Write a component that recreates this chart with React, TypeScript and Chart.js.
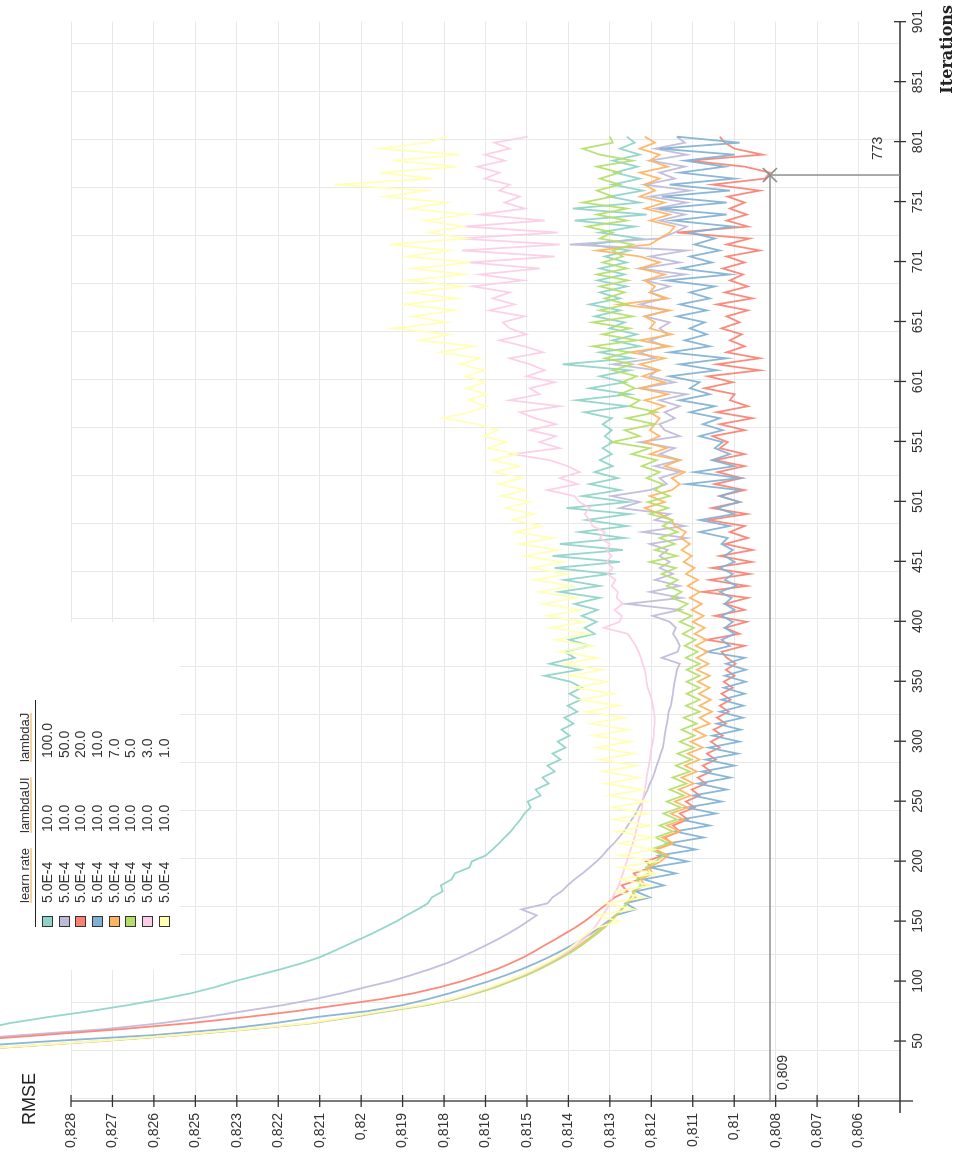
import { useEffect, useRef } from "react";
import { Chart, registerables } from "chart.js";

Chart.register(...registerables);

// ---------------- data ----------------
const ITERATIONS = [
  40, 45, 50, 55, 60, 65, 70, 75, 80, 85,
  90, 95, 100, 105, 110, 115, 120, 125, 130, 135,
  140, 145, 150, 155, 160, 165, 170, 175, 180, 185,
  190, 195, 200, 205, 210, 215, 220, 225, 230, 235,
  240, 245, 250, 255, 260, 265, 270, 275, 280, 285,
  290, 295, 300, 305, 310, 315, 320, 325, 330, 335,
  340, 345, 350, 355, 360, 365, 370, 375, 380, 385,
  390, 395, 400, 405, 410, 415, 420, 425, 430, 435,
  440, 445, 450, 455, 460, 465, 470, 475, 480, 485,
  490, 495, 500, 505, 510, 515, 520, 525, 530, 535,
  540, 545, 550, 555, 560, 565, 570, 575, 580, 585,
  590, 595, 600, 605, 610, 615, 620, 625, 630, 635,
  640, 645, 650, 655, 660, 665, 670, 675, 680, 685,
  690, 695, 700, 705, 710, 715, 720, 725, 730, 735,
  740, 745, 750, 755, 760, 765, 770, 775, 780, 785,
  790, 795, 800, 805,
];

const RMSE_J100 = [
  0.83414, 0.83303, 0.83206, 0.83123, 0.83048, 0.8297, 0.82865, 0.82748, 0.82643, 0.82549,
  0.82466, 0.82401, 0.82346, 0.82282, 0.82218, 0.8216, 0.8211, 0.82072, 0.82036, 0.81999,
  0.81963, 0.8193, 0.81897, 0.81869, 0.81838, 0.8181, 0.81799, 0.81769, 0.81774, 0.81744,
  0.81735, 0.81694, 0.81688, 0.81649, 0.8163, 0.81613, 0.81597, 0.8158, 0.81567, 0.81553,
  0.81542, 0.81525, 0.81533, 0.81497, 0.81511, 0.81475, 0.81492, 0.81458, 0.81478, 0.81442,
  0.81464, 0.81428, 0.8145, 0.81417, 0.81439, 0.81406, 0.81431, 0.81395, 0.81422, 0.81386,
  0.81417, 0.81383, 0.81414, 0.81486, 0.81389, 0.81472, 0.81403, 0.81431, 0.81361, 0.81417,
  0.81347, 0.81375, 0.81342, 0.81383, 0.81339, 0.81403, 0.81333, 0.81444, 0.81333, 0.81431,
  0.81305, 0.81458, 0.81277, 0.81464, 0.81269, 0.81444, 0.81264, 0.81389, 0.81258, 0.8137,
  0.8125, 0.81425, 0.81255, 0.81381, 0.81277, 0.81361, 0.81283, 0.81347, 0.81297, 0.81333,
  0.813, 0.81325, 0.81297, 0.81319, 0.813, 0.81325, 0.813, 0.81375, 0.81255, 0.81397,
  0.8125, 0.81361, 0.81264, 0.81333, 0.8125, 0.81436, 0.81244, 0.81333, 0.81222, 0.81297,
  0.8123, 0.81305, 0.81264, 0.81347, 0.81277, 0.81361, 0.81277, 0.81333, 0.81258, 0.81339,
  0.81264, 0.81333, 0.81258, 0.81319, 0.8125, 0.81361, 0.81222, 0.81333, 0.81236, 0.81403,
  0.81203, 0.81408, 0.81222, 0.81305, 0.81214, 0.81297, 0.81222, 0.81291, 0.81228, 0.81297,
  0.81222, 0.81277, 0.81236, 0.81258,
];

const RMSE_J50 = [
  0.83692, 0.83414, 0.83165, 0.82937, 0.82707, 0.82549, 0.82429, 0.82321, 0.82213, 0.82124,
  0.82049, 0.81983, 0.81913, 0.81857, 0.81805, 0.81758, 0.81719, 0.81683, 0.81649, 0.81616,
  0.81586, 0.81558, 0.81533, 0.81508, 0.8155, 0.81478, 0.81464, 0.81439, 0.81422, 0.81403,
  0.81381, 0.81361, 0.81342, 0.81325, 0.81311, 0.81294, 0.8128, 0.81266, 0.81255, 0.81244,
  0.81233, 0.81225, 0.81216, 0.81208, 0.812, 0.81194, 0.81186, 0.8118, 0.81175, 0.81169,
  0.81164, 0.81158, 0.81155, 0.81153, 0.8115, 0.81147, 0.81144, 0.81142, 0.81136, 0.81133,
  0.8113, 0.81128, 0.81125, 0.81122, 0.81119, 0.81111, 0.81161, 0.81117, 0.81111, 0.81119,
  0.8113, 0.81122, 0.81139, 0.81186, 0.81111, 0.81258, 0.81106, 0.81194, 0.81111, 0.8118,
  0.8113, 0.81167, 0.81139, 0.81167, 0.81144, 0.81194, 0.81092, 0.81214, 0.81097, 0.8118,
  0.81139, 0.81278, 0.81222, 0.813, 0.81194, 0.81147, 0.81167, 0.81111, 0.8118, 0.81111,
  0.81167, 0.81125, 0.81222, 0.81111, 0.81153, 0.81167, 0.81125, 0.81153, 0.81111, 0.81167,
  0.81092, 0.81222, 0.81125, 0.81194, 0.81175, 0.81297, 0.8118, 0.81222, 0.81153, 0.81194,
  0.81144, 0.81167, 0.81139, 0.81208, 0.81144, 0.81222, 0.81153, 0.81194, 0.81139, 0.81208,
  0.81097, 0.81222, 0.81111, 0.81194, 0.81092, 0.81416, 0.81167, 0.81125, 0.81092, 0.81167,
  0.81097, 0.8118, 0.81092, 0.81194, 0.81083, 0.81208, 0.81125, 0.81167, 0.81097, 0.81194,
  0.81092, 0.8118, 0.81097, 0.81119,
];

const RMSE_J20 = [
  0.83775, 0.83442, 0.83109, 0.82881, 0.8266, 0.82471, 0.82315, 0.82177, 0.82058, 0.81941,
  0.81849, 0.81777, 0.81716, 0.81666, 0.81619, 0.8158, 0.81544, 0.81514, 0.81486, 0.81456,
  0.81428, 0.814, 0.81375, 0.81353, 0.81333, 0.81311, 0.81292, 0.81256, 0.81272, 0.81222,
  0.81239, 0.81189, 0.81205, 0.81158, 0.81178, 0.81133, 0.81153, 0.81111, 0.8113, 0.81089,
  0.81111, 0.8107, 0.81094, 0.81056, 0.81078, 0.81039, 0.81061, 0.81025, 0.81047, 0.81011,
  0.81036, 0.81, 0.81025, 0.80992, 0.81017, 0.80983, 0.81008, 0.80975, 0.81, 0.8097,
  0.80995, 0.80964, 0.80989, 0.80959, 0.80983, 0.80956, 0.80981, 0.80995, 0.80931, 0.81036,
  0.80945, 0.80986, 0.80925, 0.81014, 0.80931, 0.80986, 0.80922, 0.81047, 0.80925, 0.81028,
  0.80917, 0.81022, 0.80911, 0.81, 0.80909, 0.80986, 0.80922, 0.80972, 0.80931, 0.81033,
  0.80925, 0.81022, 0.80945, 0.81, 0.80931, 0.81014, 0.80939, 0.81006, 0.80931, 0.81014,
  0.80931, 0.81, 0.80978, 0.8102, 0.80931, 0.81, 0.80909, 0.81008, 0.80922, 0.80972,
  0.80959, 0.81042, 0.80964, 0.81033, 0.80889, 0.81008, 0.80889, 0.80981, 0.80931, 0.80972,
  0.80939, 0.80995, 0.80945, 0.80981, 0.80922, 0.81008, 0.80909, 0.80986, 0.80922, 0.80972,
  0.80936, 0.80992, 0.80931, 0.80981, 0.80889, 0.80981, 0.80917, 0.81119, 0.80922, 0.80981,
  0.80925, 0.80972, 0.80931, 0.80978, 0.80889, 0.8102, 0.80875, 0.80861, 0.80931, 0.81083,
  0.80881, 0.80959, 0.80986, 0.81,
];

const RMSE_J10 = [
  0.83359, 0.83109, 0.82854, 0.82571, 0.82374, 0.82235, 0.82122, 0.81977, 0.8188, 0.8181,
  0.81749, 0.81694, 0.81641, 0.81594, 0.8155, 0.81511, 0.81475, 0.81442, 0.81411, 0.81383,
  0.81356, 0.81333, 0.81311, 0.81289, 0.81233, 0.81261, 0.81194, 0.81233, 0.81155, 0.81211,
  0.81122, 0.81192, 0.81089, 0.81167, 0.81067, 0.81144, 0.81045, 0.81125, 0.81028, 0.81108,
  0.81011, 0.81092, 0.80995, 0.81075, 0.80981, 0.81061, 0.8097, 0.8105, 0.80959, 0.81039,
  0.8095, 0.81031, 0.80945, 0.8102, 0.80942, 0.81008, 0.80936, 0.81, 0.80934, 0.80995,
  0.80931, 0.80989, 0.80928, 0.80986, 0.80928, 0.80983, 0.80931, 0.81036, 0.80972, 0.80995,
  0.80959, 0.80986, 0.80964, 0.80995, 0.80959, 0.80986, 0.80967, 0.81, 0.80953, 0.80986,
  0.80964, 0.81, 0.80959, 0.80986, 0.80964, 0.80995, 0.80978, 0.81056, 0.80972, 0.81056,
  0.80959, 0.81008, 0.80945, 0.81, 0.80945, 0.81092, 0.80945, 0.8107, 0.80959, 0.81022,
  0.80972, 0.81014, 0.80992, 0.81056, 0.80992, 0.81047, 0.81, 0.81083, 0.81014, 0.81111,
  0.81028, 0.81083, 0.81056, 0.81139, 0.81008, 0.81111, 0.80981, 0.81139, 0.81028, 0.81097,
  0.81036, 0.81083, 0.81042, 0.81119, 0.81036, 0.81111, 0.81028, 0.81083, 0.81014, 0.81147,
  0.80972, 0.81111, 0.81022, 0.81083, 0.81, 0.8107, 0.81014, 0.81083, 0.80964, 0.8113,
  0.80981, 0.81167, 0.80981, 0.81161, 0.80972, 0.81139, 0.80959, 0.81111, 0.80986, 0.81097,
  0.80959, 0.81167, 0.80945, 0.81119,
];

const RMSE_J7 = [
  0.83248, 0.8297, 0.82721, 0.82499, 0.82304, 0.82133, 0.82027, 0.8193, 0.81819, 0.81735,
  0.8168, 0.81627, 0.81583, 0.81542, 0.81506, 0.81472, 0.81442, 0.81414, 0.81389, 0.81367,
  0.81345, 0.81325, 0.81305, 0.81289, 0.81272, 0.81258, 0.81233, 0.81242, 0.81208, 0.81219,
  0.81186, 0.81197, 0.81164, 0.81144, 0.81178, 0.81128, 0.81161, 0.81111, 0.81147, 0.811,
  0.81136, 0.81089, 0.81125, 0.81081, 0.81114, 0.81072, 0.81106, 0.81064, 0.81097, 0.81056,
  0.81089, 0.81047, 0.81081, 0.81039, 0.81072, 0.81028, 0.81056, 0.81022, 0.81056, 0.81025,
  0.81058, 0.81028, 0.81061, 0.81028, 0.81064, 0.81031, 0.81064, 0.81033, 0.81067, 0.81036,
  0.8107, 0.81042, 0.81075, 0.81045, 0.81078, 0.8105, 0.81083, 0.81056, 0.81089, 0.81061,
  0.81094, 0.8107, 0.811, 0.81078, 0.81106, 0.81083, 0.81108, 0.81094, 0.81125, 0.81133,
  0.81167, 0.81208, 0.81153, 0.81194, 0.81133, 0.81111, 0.81133, 0.81097, 0.81153, 0.81111,
  0.81194, 0.81147, 0.81208, 0.81167, 0.81194, 0.8118, 0.81167, 0.81194, 0.81153, 0.81208,
  0.81144, 0.81222, 0.81153, 0.81214, 0.81167, 0.81222, 0.81153, 0.8125, 0.81139, 0.81222,
  0.81133, 0.81194, 0.8118, 0.81208, 0.81139, 0.81278, 0.81144, 0.81194, 0.8118, 0.81208,
  0.81153, 0.81222, 0.81167, 0.81222, 0.81341, 0.81194, 0.81167, 0.81139, 0.81125, 0.81194,
  0.81139, 0.81208, 0.81153, 0.81222, 0.8118, 0.81208, 0.81167, 0.81222, 0.81144, 0.81194,
  0.81167, 0.81222, 0.8118, 0.81208,
];

const RMSE_J5 = [
  0.83234, 0.82965, 0.82715, 0.82493, 0.82299, 0.8213, 0.82021, 0.81921, 0.81813, 0.81733,
  0.81674, 0.81622, 0.81578, 0.81536, 0.815, 0.81467, 0.81436, 0.81408, 0.81383, 0.81361,
  0.81339, 0.81319, 0.81303, 0.81286, 0.81272, 0.81258, 0.81247, 0.81236, 0.81219, 0.8123,
  0.81197, 0.81205, 0.81178, 0.81156, 0.81192, 0.81142, 0.81178, 0.81131, 0.81167, 0.81119,
  0.81156, 0.81108, 0.81147, 0.811, 0.81139, 0.81092, 0.81131, 0.81083, 0.81122, 0.81078,
  0.81117, 0.81072, 0.81111, 0.8107, 0.81106, 0.81064, 0.811, 0.81056, 0.81094, 0.81056,
  0.81092, 0.81056, 0.81092, 0.81056, 0.81092, 0.81056, 0.81094, 0.81061, 0.81097, 0.81067,
  0.81103, 0.81072, 0.81111, 0.81078, 0.81119, 0.81089, 0.81133, 0.81106, 0.81147, 0.81117,
  0.81161, 0.81122, 0.81194, 0.81119, 0.8118, 0.81125, 0.81167, 0.81117, 0.81158, 0.81131,
  0.81194, 0.81144, 0.812, 0.81139, 0.8118, 0.81158, 0.81203, 0.81167, 0.81216, 0.81175,
  0.81244, 0.81194, 0.813, 0.81222, 0.81264, 0.8118, 0.81258, 0.81175, 0.8125, 0.81222,
  0.81278, 0.81236, 0.81272, 0.8123, 0.81297, 0.81242, 0.81319, 0.8125, 0.81353, 0.8123,
  0.81325, 0.8125, 0.81353, 0.81242, 0.81333, 0.81258, 0.81319, 0.81264, 0.81333, 0.81255,
  0.81341, 0.81258, 0.81325, 0.81269, 0.81297, 0.81242, 0.81333, 0.81297, 0.81369, 0.81258,
  0.81341, 0.81258, 0.8138, 0.81297, 0.81341, 0.81278, 0.81333, 0.81278, 0.81341, 0.81242,
  0.81333, 0.8138, 0.81297, 0.81305,
];

const RMSE_J3 = [
  0.83242, 0.82976, 0.82726, 0.82504, 0.8231, 0.82138, 0.82032, 0.81935, 0.81824, 0.81741,
  0.81685, 0.81633, 0.81589, 0.81547, 0.81511, 0.81478, 0.81447, 0.81419, 0.81397, 0.81378,
  0.81361, 0.81347, 0.81336, 0.81325, 0.81314, 0.81305, 0.81297, 0.81289, 0.8128, 0.81275,
  0.81269, 0.81264, 0.81258, 0.81253, 0.81247, 0.81242, 0.81236, 0.81233, 0.81228, 0.81225,
  0.81219, 0.81216, 0.81214, 0.81211, 0.81208, 0.81205, 0.81203, 0.812, 0.81197, 0.81194,
  0.81192, 0.81189, 0.81186, 0.81183, 0.81183, 0.81181, 0.81181, 0.81183, 0.81186, 0.81189,
  0.81194, 0.812, 0.81203, 0.81205, 0.81208, 0.81214, 0.81219, 0.81225, 0.81233, 0.81244,
  0.81255, 0.81322, 0.81278, 0.81272, 0.81292, 0.81269, 0.81286, 0.81283, 0.813, 0.81289,
  0.81311, 0.81297, 0.81314, 0.813, 0.81314, 0.81305, 0.81333, 0.81319, 0.81353, 0.81361,
  0.81375, 0.81361, 0.81389, 0.81403, 0.81478, 0.81394, 0.81444, 0.81389, 0.81422, 0.81472,
  0.81575, 0.81444, 0.815, 0.81455, 0.81527, 0.81455, 0.81513, 0.81555, 0.81444, 0.81583,
  0.815, 0.81527, 0.81458, 0.81536, 0.81486, 0.81527, 0.81583, 0.81491, 0.81541, 0.81611,
  0.81536, 0.81583, 0.81602, 0.81541, 0.81639, 0.81569, 0.8163, 0.81583, 0.81685, 0.81547,
  0.81666, 0.815, 0.81694, 0.81458, 0.81716, 0.81444, 0.81722, 0.8145, 0.81708, 0.81486,
  0.81666, 0.81541, 0.81597, 0.81555, 0.81611, 0.81583, 0.81652, 0.81611, 0.81672, 0.81597,
  0.81652, 0.81583, 0.81625, 0.81533,
];

const RMSE_J1 = [
  0.83253, 0.82981, 0.82732, 0.8251, 0.82315, 0.82144, 0.82038, 0.81941, 0.8183, 0.81747,
  0.81691, 0.81639, 0.81594, 0.81553, 0.81516, 0.81483, 0.81453, 0.81428, 0.81406, 0.81386,
  0.81369, 0.81339, 0.81278, 0.81342, 0.81239, 0.81317, 0.81208, 0.81292, 0.81189, 0.81278,
  0.81178, 0.81278, 0.81178, 0.81278, 0.81181, 0.8128, 0.81186, 0.81286, 0.81192, 0.81294,
  0.812, 0.813, 0.81205, 0.81308, 0.81214, 0.81317, 0.81222, 0.81325, 0.8123, 0.81333,
  0.81239, 0.81342, 0.81247, 0.8135, 0.81255, 0.81358, 0.81264, 0.81372, 0.8128, 0.81386,
  0.81294, 0.81403, 0.81311, 0.81416, 0.81325, 0.8143, 0.81339, 0.81444, 0.81353, 0.81458,
  0.81364, 0.81469, 0.81375, 0.8148, 0.81386, 0.81491, 0.81397, 0.81502, 0.81408, 0.81513,
  0.81422, 0.81527, 0.81436, 0.81541, 0.8145, 0.81555, 0.81463, 0.81569, 0.81494, 0.81575,
  0.81516, 0.81594, 0.81527, 0.81605, 0.81538, 0.81616, 0.81547, 0.81625, 0.81555, 0.81633,
  0.81561, 0.81644, 0.81594, 0.81655, 0.81616, 0.81672, 0.81769, 0.81694, 0.81647, 0.81699,
  0.81647, 0.81702, 0.8165, 0.81705, 0.81652, 0.81722, 0.81666, 0.81777, 0.8168, 0.81833,
  0.8175, 0.81907, 0.81758, 0.81852, 0.81735, 0.81874, 0.8173, 0.8186, 0.81713, 0.81869,
  0.81708, 0.81852, 0.81694, 0.81869, 0.8175, 0.81916, 0.81702, 0.81805, 0.81713, 0.81819,
  0.81702, 0.8186, 0.81758, 0.8193, 0.81813, 0.82068, 0.81796, 0.81944, 0.8173, 0.81907,
  0.81722, 0.81944, 0.81813, 0.81758,
];

const SERIES = [RMSE_J100, RMSE_J50, RMSE_J20, RMSE_J10, RMSE_J7, RMSE_J5, RMSE_J3, RMSE_J1];
const COLORS = ["#8dd3c7", "#bebada", "#fb8072", "#80b1d3", "#fdb462", "#b3de69", "#fccde5", "#ffffb3"];

const LEGEND_HEADERS = ["learn rate", "lambdaUI", "lambdaJ"];
const LEARN_RATE = ["5.0E-4", "5.0E-4", "5.0E-4", "5.0E-4", "5.0E-4", "5.0E-4", "5.0E-4", "5.0E-4"];
const LAMBDA_UI = ["10.0", "10.0", "10.0", "10.0", "10.0", "10.0", "10.0", "10.0"];
const LAMBDA_J = ["100.0", "50.0", "20.0", "10.0", "7.0", "5.0", "3.0", "1.0"];

const Y_MIN = 0.805;
const Y_MAX = 0.828;
const RMSE_TICKS = [
  0.828, 0.82685, 0.8257, 0.82455, 0.8234, 0.82225, 0.8211, 0.81995, 0.8188, 0.81765,
  0.8165, 0.81535, 0.8142, 0.81305, 0.8119, 0.81075, 0.8096, 0.80845, 0.8073, 0.80615,
];
const RMSE_TICK_LABELS = [
  "0,828", "0,827", "0,826", "0,825", "0,823", "0,822", "0,821", "0,82", "0,819", "0,818",
  "0,816", "0,815", "0,814", "0,813", "0,812", "0,811", "0,81", "0,808", "0,807", "0,806",
];

const X_MIN = 0;
const X_MAX = 901;
const ITER_TICKS = [
  50.056, 100.111, 150.167, 200.222, 250.278, 300.333, 350.389, 400.444, 450.5,
  500.556, 550.611, 600.667, 650.722, 700.778, 750.833, 800.889, 850.944, 901,
];
const ITER_TICK_LABELS = [
  "50", "100", "150", "200", "250", "300", "350", "400", "451",
  "501", "551", "601", "651", "701", "751", "801", "851", "901",
];
const ITER_GRID = [2, 42, 82, 122, 162, 202, 242, 282, 322, 362, 402, 442, 482, 522, 562, 602, 642, 682, 722, 762, 802, 842, 882];

const CROSS_ITER = 773;
const CROSS_RMSE = 0.80861;
const CROSS_ITER_LABEL = "773";
const CROSS_RMSE_LABEL = "0,809";

const X_TITLE = "Iterations";
const Y_TITLE = "RMSE";

// ---------------- layout / style ----------------
const W = 1155; // un-rotated canvas width
const H = 955; // un-rotated canvas height
const SANS = "'Liberation Sans', Arial, sans-serif";
const GRID_COLOR = "#e8e8e8";
const AXIS_COLOR = "#333333";

function rgba(hex: string, a: number) {
  const n = parseInt(hex.slice(1), 16);
  return `rgba(${(n >> 16) & 255},${(n >> 8) & 255},${n & 255},${a})`;
}

function line(ctx: CanvasRenderingContext2D, x1: number, y1: number, x2: number, y2: number) {
  ctx.beginPath();
  ctx.moveTo(x1, y1);
  ctx.lineTo(x2, y2);
  ctx.stroke();
}

export default function App() {
  const ref = useRef<HTMLCanvasElement>(null);

  useEffect(() => {
    const canvas = ref.current;
    if (!canvas) return;

    const decor = {
      id: "decor",
      beforeDraw(chart: any) {
        const ctx = chart.ctx;
        ctx.save();
        ctx.fillStyle = "#ffffff";
        ctx.fillRect(0, 0, chart.width, chart.height);
        ctx.restore();
      },
      beforeDatasetsDraw(chart: any) {
        const { ctx, chartArea, scales } = chart;
        const xs = scales.x;
        ctx.save();
        ctx.strokeStyle = GRID_COLOR;
        ctx.lineWidth = 1;
        ITER_GRID.forEach((v) => {
          const px = Math.round(xs.getPixelForValue(v)) + 0.5;
          line(ctx, px, chartArea.top, px, chartArea.bottom);
        });
        // legend backdrop hides the grid behind the legend table
        ctx.fillStyle = "#ffffff";
        ctx.fillRect(185, 0, 348, 180);
        ctx.restore();
      },
      afterDatasetsDraw(chart: any) {
        const { ctx, chartArea, scales } = chart;
        const xs = scales.x;
        const ys = scales.y;
        const left = chartArea.left;
        const bottom = chartArea.bottom;
        ctx.save();

        // axes
        ctx.strokeStyle = AXIS_COLOR;
        ctx.lineWidth = 1.3;
        line(ctx, left, chartArea.top, left, bottom + 13);
        line(ctx, left - 12, bottom, chartArea.right, bottom);
        RMSE_TICKS.forEach((v) => {
          const py = ys.getPixelForValue(v);
          line(ctx, left - 6, py, left + 6, py);
        });
        ITER_TICKS.forEach((v) => {
          const px = xs.getPixelForValue(v);
          line(ctx, px, bottom - 6, px, bottom + 6);
        });

        // crosshair
        const cx = xs.getPixelForValue(CROSS_ITER);
        const cy = ys.getPixelForValue(CROSS_RMSE);
        ctx.strokeStyle = "#8e8e8e";
        ctx.lineWidth = 1.5;
        line(ctx, left, cy, cx, cy);
        line(ctx, cx, cy, cx, bottom);
        line(ctx, cx - 7, cy - 7, cx + 7, cy + 7);
        line(ctx, cx - 7, cy + 7, cx + 7, cy - 7);
        ctx.fillStyle = "#333333";
        ctx.font = `14px ${SANS}`;
        ctx.textAlign = "left";
        ctx.textBaseline = "alphabetic";
        ctx.fillText(CROSS_ITER_LABEL, cx + 15, bottom - 18);
        ctx.fillText(CROSS_RMSE_LABEL, left + 11, cy + 17);

        // titles
        ctx.fillStyle = "#222222";
        ctx.font = `18px ${SANS}`;
        ctx.fillText(Y_TITLE, 30, 35);
        ctx.font = "bold 16px 'DejaVu Serif', serif";
        ctx.textAlign = "right";
        ctx.fillText(X_TITLE, 1150, 952);

        // legend table
        const colX = [252, 322, 393];
        ctx.textAlign = "left";
        ctx.font = `13px ${SANS}`;
        ctx.fillStyle = "#333333";
        LEGEND_HEADERS.forEach((h, i) => {
          ctx.fillText(h, colX[i], 29);
          const w = ctx.measureText(h).width;
          ctx.strokeStyle = "#f0a548";
          ctx.lineWidth = 1.2;
          line(ctx, colX[i], 31, colX[i] + w, 31);
        });
        ctx.strokeStyle = "#222222";
        ctx.lineWidth = 1;
        line(ctx, 228, 35.5, 455, 35.5);
        ctx.font = `14px ${SANS}`;
        ctx.textBaseline = "middle";
        const valX = [252, 323, 397];
        COLORS.forEach((c, i) => {
          const ry = 47 + i * 16.67;
          ctx.fillStyle = c;
          ctx.fillRect(228, Math.round(ry - 5), 10, 10);
          ctx.strokeStyle = "#333333";
          ctx.lineWidth = 1;
          ctx.strokeRect(228.5, Math.round(ry - 5) + 0.5, 10, 10);
          ctx.fillStyle = "#333333";
          ctx.fillText(LEARN_RATE[i], valX[0], ry + 1);
          ctx.fillText(LAMBDA_UI[i], valX[1], ry + 1);
          ctx.fillText(LAMBDA_J[i], valX[2], ry + 1);
        });

        ctx.restore();
      },
    };

    const datasets = SERIES.map((s, i) => ({
      label: LAMBDA_J[i],
      data: ITERATIONS.map((it, j) => ({ x: it, y: s[j] })),
      borderColor: rgba(COLORS[i], 0.92),
      backgroundColor: COLORS[i],
      borderWidth: 1.8,
      pointRadius: 0,
      tension: 0,
      fill: false,
      clip: false as any,
      order: SERIES.length - i,
    }));

    const chart = new Chart(canvas, {
      type: "line",
      data: { datasets },
      options: {
        animation: false,
        responsive: false,
        devicePixelRatio: 1,
        events: [],
        parsing: false,
        normalized: true,
        layout: { autoPadding: false, padding: { left: 0, right: 20, top: 71, bottom: 0 } },
        plugins: { legend: { display: false }, tooltip: { enabled: false }, title: { display: false } },
        scales: {
          x: {
            type: "linear",
            min: X_MIN,
            max: X_MAX,
            afterFit: (s: any) => {
              s.height = 55;
            },
            afterBuildTicks: (s: any) => {
              s.ticks = ITER_TICKS.map((v) => ({ value: v }));
            },
            grid: { display: false, drawTicks: false },
            border: { display: false },
            ticks: {
              autoSkip: false,
              maxRotation: 0,
              minRotation: 0,
              padding: 10,
              color: "#333333",
              font: { family: SANS, size: 14 },
              callback: (_v: any, i: number) => ITER_TICK_LABELS[i],
            },
          },
          y: {
            type: "linear",
            min: Y_MIN,
            max: Y_MAX,
            afterFit: (s: any) => {
              s.width = 54;
            },
            afterBuildTicks: (s: any) => {
              s.ticks = RMSE_TICKS.map((v) => ({ value: v }));
            },
            grid: { display: true, drawTicks: false, color: GRID_COLOR, lineWidth: 1 },
            border: { display: false },
            ticks: {
              autoSkip: false,
              padding: 12,
              color: "#333333",
              font: { family: SANS, size: 14 },
              callback: (_v: any, i: number) => RMSE_TICK_LABELS[i],
            },
          },
        },
      },
      plugins: [decor],
    } as any);

    return () => chart.destroy();
  }, []);

  return (
    <div
      style={{
        position: "fixed",
        left: 0,
        top: 0,
        width: H,
        height: W,
        overflow: "hidden",
        background: "#ffffff",
      }}
    >
      <canvas
        ref={ref}
        width={W}
        height={H}
        style={{
          position: "absolute",
          left: 0,
          top: 0,
          width: W,
          height: H,
          transformOrigin: "0 0",
          transform: `translateY(${W}px) rotate(-90deg)`,
        }}
      />
    </div>
  );
}
